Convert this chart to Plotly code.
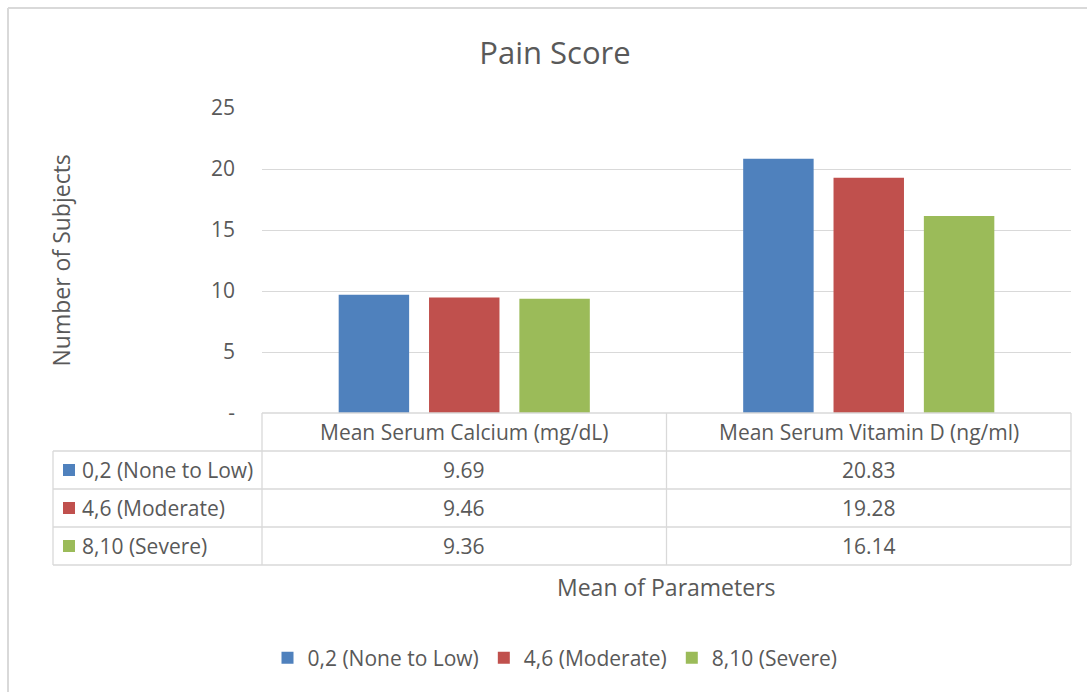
import plotly.graph_objects as go

# --- data -------------------------------------------------------------
categories = ["Mean Serum Calcium (mg/dL)", "Mean Serum Vitamin D (ng/ml)"]
series_names = ["0,2 (None to Low)", "4,6 (Moderate)", "8,10 (Severe)"]
none_to_low = [9.69, 20.83]
moderate = [9.46, 19.28]
severe = [9.36, 16.14]
series_values = [none_to_low, moderate, severe]
series_colors = ["#4F81BD", "#C0504D", "#9BBB59"]
y_tick_values = [0, 5, 10, 15, 20, 25]
y_tick_labels = ["-", "5", "10", "15", "20", "25"]

# --- geometry (pixels) ------------------------------------------------
W, H = 1087, 692
PL, PR, PT, PB = 262, 1071, 108, 413   # plot area edges
TABLE_LEFT = 53
ROW_H = 38
FONT = "Open Sans"
TXT = "#595959"
GRID = "#D9D9D9"


def px(x):
    return (x - PL) / (PR - PL)


def py(y):
    return (PB - y) / (PB - PT)


fig = go.Figure()
for name, vals, col in zip(series_names, series_values, series_colors):
    fig.add_trace(go.Bar(x=categories, y=vals, name=name,
                         marker=dict(color=col, line=dict(width=0))))

shapes = []
annotations = []

# outer chart frame (top and left edges)
shapes.append(dict(type="line", xref="paper", yref="paper",
                   x0=px(8), y0=py(8), x1=px(W + 5), y1=py(8),
                   line=dict(color=GRID, width=2)))
shapes.append(dict(type="line", xref="paper", yref="paper",
                   x0=px(8), y0=py(8), x1=px(8), y1=py(H + 5),
                   line=dict(color=GRID, width=2)))

# data table grid
n_rows = len(series_names)
header_bottom = PB + ROW_H
table_bottom = header_bottom + n_rows * ROW_H
col_mid = (PL + PR) / 2
line = dict(color=GRID, width=1.3)
shapes.append(dict(type="line", xref="paper", yref="paper", x0=px(PL), x1=px(PR),
                   y0=py(PB), y1=py(PB), line=line))
for i in range(n_rows + 1):
    yy = header_bottom + i * ROW_H
    shapes.append(dict(type="line", xref="paper", yref="paper",
                       x0=px(TABLE_LEFT), x1=px(PR), y0=py(yy), y1=py(yy), line=line))
for xx, top in [(TABLE_LEFT, header_bottom), (PL, PB), (col_mid, PB), (PR, PB)]:
    shapes.append(dict(type="line", xref="paper", yref="paper",
                       x0=px(xx), x1=px(xx), y0=py(top), y1=py(table_bottom), line=line))

cell_font = dict(family=FONT, size=21, color=TXT)


def label(text, x, y, font, xanchor="center", angle=0):
    annotations.append(dict(text=text, x=px(x), y=py(y), xref="paper", yref="paper",
                            xanchor=xanchor, yanchor="middle", showarrow=False,
                            textangle=angle, font=font))


# header cells
for j, cat in enumerate(categories):
    cx = PL + (j + 0.5) * (PR - PL) / len(categories)
    label(cat, cx, PB + ROW_H / 2, cell_font)
# body rows
for i, (name, vals, col) in enumerate(zip(series_names, series_values, series_colors)):
    cy = header_bottom + (i + 0.5) * ROW_H
    shapes.append(dict(type="rect", xref="paper", yref="paper",
                       x0=px(63), x1=px(75), y0=py(cy - 6), y1=py(cy + 6),
                       fillcolor=col, line=dict(width=0)))
    label(name, 80, cy, cell_font, xanchor="left")
    for j, v in enumerate(vals):
        cx = PL + (j + 0.5) * (PR - PL) / len(categories)
        label(f"{v:.2f}", cx, cy, cell_font)

# axis titles
title_font = dict(family=FONT, size=23, color=TXT)
label("Number of Subjects", 60, (PT + PB) / 2, title_font, angle=-90)
label("Mean of Parameters", 666, 587, title_font)

fig.update_layout(
    width=W, height=H,
    margin=dict(l=PL, r=W - PR, t=PT, b=H - PB, pad=0),
    paper_bgcolor="white", plot_bgcolor="white",
    title=dict(text="Pain Score", x=px(555), xref="paper", y=1 - 53 / H, yanchor="middle",
               xanchor="center", font=dict(family=FONT, size=31, color=TXT)),
    barmode="group", bargap=0.33, bargroupgap=0.22,
    showlegend=True,
    legend=dict(orientation="h", x=px(555), xanchor="center", y=py(658), yanchor="middle",
                font=dict(family=FONT, size=21, color=TXT), traceorder="normal",
                itemwidth=30),
    xaxis=dict(showticklabels=False, showgrid=False, zeroline=False, showline=False,
               ticks=""),
    yaxis=dict(range=[0, 25], tickvals=y_tick_values, ticktext=y_tick_labels,
               showgrid=True, gridcolor=GRID, gridwidth=1.3, zeroline=False,
               showline=False, ticks="", ticklabelstandoff=26,
               tickfont=dict(family=FONT, size=21, color=TXT)),
    shapes=shapes, annotations=annotations,
)

fig.write_html("out.html")
